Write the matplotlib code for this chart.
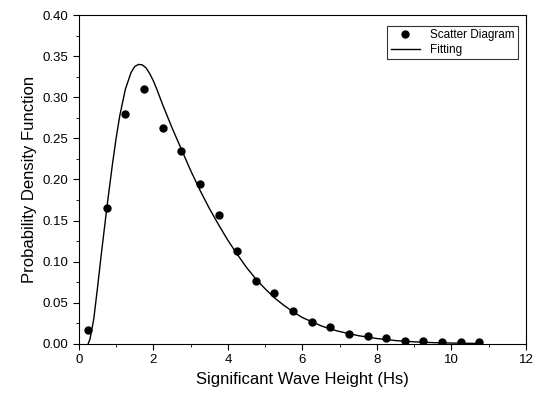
import numpy as np
import matplotlib.pyplot as plt
from matplotlib.ticker import MultipleLocator

plt.rcParams['font.family'] = ['Liberation Sans', 'DejaVu Sans']

# scatter diagram values
hs_points = [0.25, 0.75, 1.25, 1.75, 2.25, 2.75, 3.25, 3.75, 4.25, 4.75, 5.25,
             5.75, 6.25, 6.75, 7.25, 7.75, 8.25, 8.75, 9.25, 9.75, 10.25, 10.75]
pdf_points = [0.017, 0.165, 0.280, 0.310, 0.263, 0.235, 0.195, 0.157, 0.113, 0.077, 0.062,
              0.040, 0.027, 0.020, 0.012, 0.009, 0.007, 0.004, 0.003, 0.002, 0.002, 0.002]

# fitted curve
hs_fit = [0.25, 0.3, 0.4, 0.5, 0.6, 0.75, 0.9, 1.0, 1.1, 1.25, 1.4, 1.5, 1.6, 1.7,
          1.8, 1.9, 2.0, 2.1, 2.25, 2.5, 2.75, 3.0, 3.25, 3.5, 3.75, 4.0, 4.25, 4.5,
          4.75, 5.0, 5.25, 5.5, 5.75, 6.0, 6.25, 6.5, 6.75, 7.0, 7.5, 8.0, 8.5, 9.0,
          9.5, 10.0, 10.75]
pdf_fit = [0.0, 0.006, 0.03, 0.068, 0.108, 0.165, 0.218, 0.25, 0.278, 0.31, 0.330,
           0.3375, 0.340, 0.3395, 0.336, 0.329, 0.320, 0.309, 0.291, 0.263, 0.237,
           0.211, 0.187, 0.165, 0.145, 0.126, 0.109, 0.093, 0.079, 0.067, 0.056, 0.047,
           0.039, 0.032, 0.027, 0.022, 0.018, 0.015, 0.010, 0.0065, 0.004, 0.0025,
           0.0015, 0.001, 0.0005]

fig = plt.figure(figsize=(5.4, 3.98), dpi=100)
ax = fig.add_axes([0.146, 0.136, 0.828, 0.826])

ax.plot(hs_points, pdf_points, 'o', color='black', markersize=5, label='Scatter Diagram')
ax.plot(hs_fit, pdf_fit, '-', color='black', linewidth=1.0, label='Fitting')

ax.set_xlim(0, 12)
ax.set_ylim(0, 0.40)
ax.xaxis.set_major_locator(MultipleLocator(2))
ax.xaxis.set_minor_locator(MultipleLocator(1))
ax.yaxis.set_major_locator(MultipleLocator(0.05))
ax.yaxis.set_minor_locator(MultipleLocator(0.025))
ax.yaxis.set_major_formatter(plt.FormatStrFormatter('%.2f'))
ax.tick_params(which='both', direction='out', labelsize=9.5)
ax.tick_params(which='major', length=4)
ax.tick_params(which='minor', length=2)

ax.set_xlabel('Significant Wave Height (Hs)', fontsize=12)
ax.set_ylabel('Probability Density Function', fontsize=12)

leg = ax.legend(loc='upper right', fontsize=8.5, frameon=True, fancybox=False,
                edgecolor='black', borderpad=0.3, handlelength=2.5, labelspacing=0.2,
                bbox_to_anchor=(0.995, 0.985))
leg.get_frame().set_linewidth(0.8)

plt.savefig('out.png', dpi=100)
